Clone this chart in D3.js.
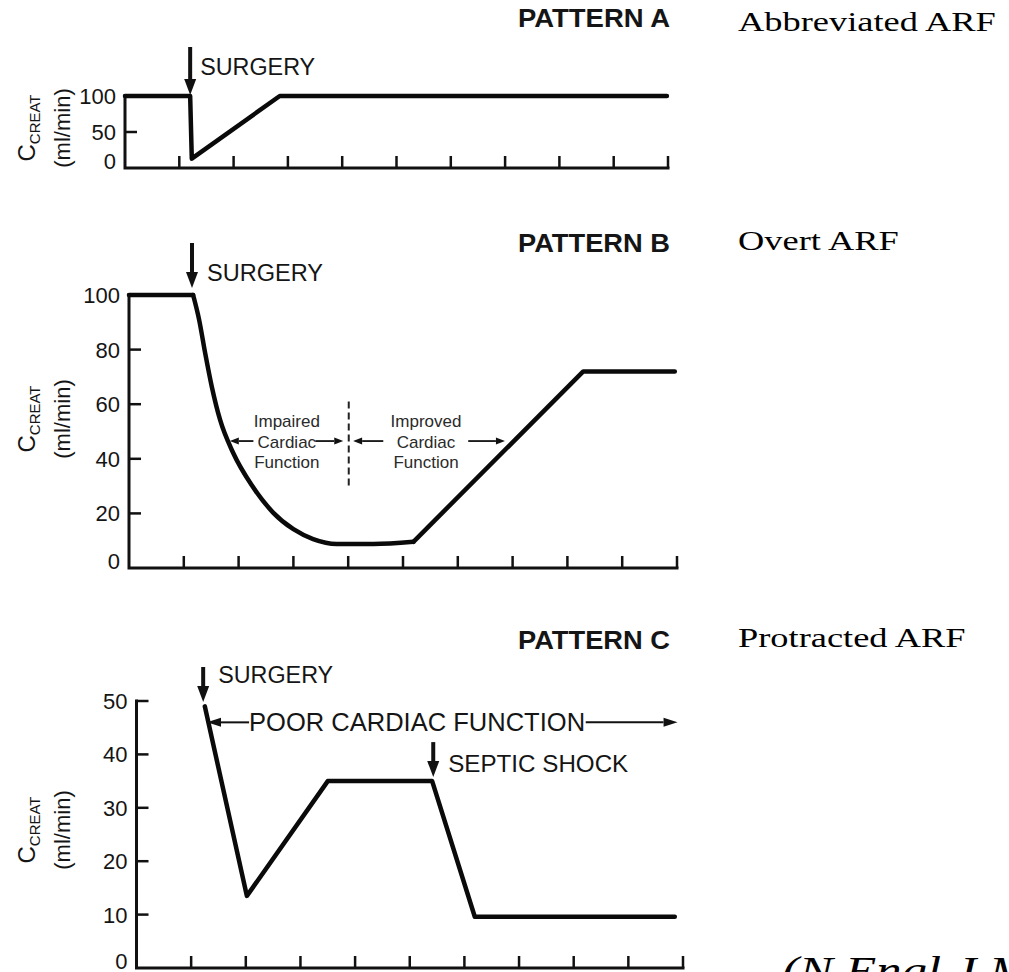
<!DOCTYPE html>
<html>
<head>
<meta charset="utf-8">
<script src="https://cdn.jsdelivr.net/npm/d3@7"></script>
<style>
    body { margin: 0; background: #fff; }
    svg { display: block; overflow: hidden; }
    .axis { stroke: #111; stroke-width: 3; fill: none; stroke-linecap: square; }
    .tick { stroke: #111; stroke-width: 2.5; }
    .curve { stroke: #0a0a0a; stroke-width: 4.5; fill: none; stroke-linejoin: round; stroke-linecap: round; }
    .sans { font-family: "Liberation Sans", Arial, sans-serif; fill: #151515; }
    .serif { font-family: "Liberation Serif", "Times New Roman", serif; fill: #000; }
</style>
</head>
<body>
<script>
(function(){

    //x axis tick positions (time units), shared by the three panels
    var timeTicks = [1, 2, 3, 4, 5, 6, 7, 8, 9, 10];

    //pattern A: abbreviated ARF
    var timeA = [0, 1.2, 1.23, 2.85, 9.98];
    var creatA = [100, 100, 13, 100, 100];
    var ticksA = [50, 100];

    //pattern B: overt ARF (smooth fall between 1.17 and 5.19, straight elsewhere)
    var timeB = [0, 1.17, 1.28, 1.39, 1.51, 1.66, 1.90, 2.25, 2.63, 3.00, 3.36, 3.79, 4.46, 5.19, 8.29, 9.96];
    var creatB = [100, 100, 90.9, 78.7, 66.5, 54.4, 42.2, 30.0, 20.3, 14.2, 10.6, 8.8, 8.8, 9.6, 72, 72];
    var smoothB = [1.17, 5.19];
    var ticksB = [20, 40, 60, 80, 100];

    //pattern C: protracted ARF
    var timeC = [1.25, 2.02, 3.50, 5.41, 6.19, 9.85];
    var creatC = [49, 13.5, 35, 35, 9.6, 9.6];
    var ticksC = [10, 20, 30, 40, 50];

    //annotation labels
    var patternNames = ["PATTERN A", "PATTERN B", "PATTERN C"];
    var arfNames = ["Abbreviated ARF", "Overt ARF", "Protracted ARF"];
    var impairedLines = ["Impaired", "Cardiac", "Function"];
    var improvedLines = ["Improved", "Cardiac", "Function"];

    window.onload = setFigure();

    function setFigure(){
        var width = 1009,
            height = 972;

        var svg = d3.select("body")
            .append("svg")
            .attr("width", width)
            .attr("height", height);

        svg.append("rect")
            .attr("width", width)
            .attr("height", height)
            .attr("fill", "#fff");

        //panel A
        var pA = drawPanel(svg, {
            xRange: [125, 668], yRange: [168, 96], yMax: 100,
            yTicks: ticksA, time: timeA, creat: creatA,
            smooth: null, labelY: 128
        });
        drawTitle(svg, patternNames[0], arfNames[0], 27, 31);
        drawBigArrow(svg, pA.x(1.2), pA.y(100) - 1, 48);
        drawSansText(svg, "SURGERY", pA.x(1.2) + 10, 75, 23, 115);

        //panel B
        var pB = drawPanel(svg, {
            xRange: [129, 677], yRange: [568, 295], yMax: 100,
            yTicks: ticksB, time: timeB, creat: creatB,
            smooth: smoothB, labelY: 419
        });
        drawTitle(svg, patternNames[1], arfNames[1], 252, 250);
        drawBigArrow(svg, pB.x(1.15), pB.y(100) - 7, 45);
        drawSansText(svg, "SURGERY", pB.x(1.15) + 15, 281, 23, 116);

        //dashed divider between cardiac phases
        svg.append("line")
            .attr("x1", pB.x(4.01)).attr("x2", pB.x(4.01))
            .attr("y1", pB.y(61)).attr("y2", pB.y(30))
            .attr("stroke", "#222")
            .attr("stroke-width", 2)
            .attr("stroke-dasharray", "7,4");

        drawSmallLines(svg, impairedLines, pB.x(2.88), pB.y(51.6));
        drawSmallLines(svg, improvedLines, pB.x(5.42), pB.y(51.6));
        var ay = pB.y(46.5);
        drawThinArrow(svg, pB.x(2.27), pB.x(1.84), ay, 9, 7, 1.8);
        drawThinArrow(svg, pB.x(3.40), pB.x(3.91), ay, 9, 7, 1.8);
        drawThinArrow(svg, pB.x(4.64), pB.x(4.09), ay, 9, 7, 1.8);
        drawThinArrow(svg, pB.x(6.19), pB.x(6.86), ay, 9, 7, 1.8);

        //panel C
        var pC = drawPanel(svg, {
            xRange: [136.5, 683], yRange: [968, 701], yMax: 50,
            yTicks: ticksC, time: timeC, creat: creatC,
            smooth: null, labelY: 830
        });
        drawTitle(svg, patternNames[2], arfNames[2], 649, 647);
        drawBigArrow(svg, pC.x(1.22), pC.y(50) + 1, 35);
        drawSansText(svg, "SURGERY", pC.x(1.22) + 15, 683, 23, 115);
        drawBigArrow(svg, pC.x(5.43), pC.y(35) - 4, 35);
        drawSansText(svg, "SEPTIC SHOCK", pC.x(5.43) + 15, 772, 24, 180);

        var py = pC.y(46);
        drawSansText(svg, "POOR CARDIAC FUNCTION", pC.x(2.06), 731, 25, 336);
        drawThinArrow(svg, pC.x(2.06), pC.x(1.29), py, 14, 9, 2);
        drawThinArrow(svg, pC.x(8.22), pC.x(9.90), py, 14, 9, 2);

        //citation, cut by the bottom edge as in the source
        svg.append("text")
            .attr("class", "serif")
            .attr("transform", "translate(782,984) scale(1.3,1)")
            .attr("font-size", 39)
            .attr("font-style", "italic")
            .text("(N Engl J Med");
    };

    //draw axes, ticks, labels and the clearance curve of one panel
    function drawPanel(svg, opts){
        var x = d3.scaleLinear()
            .domain([0, 10])
            .range(opts.xRange);
        var y = d3.scaleLinear()
            .domain([0, opts.yMax])
            .range(opts.yRange);

        var g = svg.append("g");

        //axis lines
        g.append("path")
            .attr("class", "axis")
            .attr("d", "M" + x(0) + "," + y(opts.yMax) +
                "V" + y(0) + "H" + x(10));

        //x ticks pointing up
        g.selectAll(".xtick")
            .data(timeTicks)
            .enter()
            .append("line")
            .attr("class", "tick")
            .attr("x1", function(d){ return x(d); })
            .attr("x2", function(d){ return x(d); })
            .attr("y1", y(0))
            .attr("y2", y(0) - 12);

        //y ticks pointing right
        g.selectAll(".ytick")
            .data(opts.yTicks)
            .enter()
            .append("line")
            .attr("class", "tick")
            .attr("x1", x(0))
            .attr("x2", x(0) + 12)
            .attr("y1", function(d){ return y(d); })
            .attr("y2", function(d){ return y(d); });

        //y tick labels (the zero sits a little above its tick)
        g.selectAll(".ylabel")
            .data([0].concat(opts.yTicks))
            .enter()
            .append("text")
            .attr("class", "sans")
            .attr("x", x(0) - 9)
            .attr("y", function(d){ return d === 0 ? y(d) - 7 : y(d); })
            .attr("dy", "0.36em")
            .attr("text-anchor", "end")
            .attr("font-size", 22)
            .text(function(d){ return d; });

        //rotated axis title
        var t1 = g.append("text")
            .attr("class", "sans")
            .attr("text-anchor", "middle")
            .attr("transform", "translate(35," + opts.labelY + ") rotate(-90)")
            .attr("font-size", 24);
        t1.append("tspan").text("C");
        t1.append("tspan")
            .attr("font-size", 15)
            .attr("dy", 5)
            .text("CREAT");

        g.append("text")
            .attr("class", "sans")
            .attr("text-anchor", "middle")
            .attr("transform", "translate(70," + opts.labelY + ") rotate(-90)")
            .attr("font-size", 22)
            .text("(ml/min)");

        //clearance curve, split into straight and smooth stretches
        var points = opts.time.map(function(t, i){ return [t, opts.creat[i]]; });
        var pieces;
        if (opts.smooth){
            var s0 = opts.smooth[0], s1 = opts.smooth[1];
            pieces = [
                {pts: points.filter(function(d){ return d[0] <= s0; }), curve: d3.curveLinear},
                {pts: points.filter(function(d){ return d[0] >= s0 && d[0] <= s1; }), curve: d3.curveMonotoneX},
                {pts: points.filter(function(d){ return d[0] >= s1; }), curve: d3.curveLinear}
            ];
        } else {
            pieces = [{pts: points, curve: d3.curveLinear}];
        }

        pieces.forEach(function(p){
            var line = d3.line()
                .x(function(d){ return x(d[0]); })
                .y(function(d){ return y(d[1]); })
                .curve(p.curve);
            g.append("path")
                .datum(p.pts)
                .attr("class", "curve")
                .attr("d", line);
        });

        return {x: x, y: y};
    };

    //bold pattern title and the serif ARF name to its right
    function drawTitle(svg, pattern, arf, yPattern, yArf){
        svg.append("text")
            .attr("class", "sans")
            .attr("x", 518)
            .attr("y", yPattern)
            .attr("font-size", 25)
            .attr("font-weight", "bold")
            .attr("textLength", 152)
            .attr("lengthAdjust", "spacingAndGlyphs")
            .text(pattern);

        svg.append("text")
            .attr("class", "serif")
            .attr("transform", "translate(738," + yArf + ") scale(1.3,1)")
            .attr("font-size", 28)
            .text(arf);
    };

    function drawSansText(svg, txt, x, y, size, len){
        svg.append("text")
            .attr("class", "sans")
            .attr("x", x)
            .attr("y", y)
            .attr("font-size", size)
            .attr("textLength", len)
            .attr("lengthAdjust", "spacingAndGlyphs")
            .text(txt);
    };

    //three centred lines of small annotation text
    function drawSmallLines(svg, lines, cx, y0){
        svg.selectAll(null)
            .data(lines)
            .enter()
            .append("text")
            .attr("class", "sans")
            .attr("x", cx)
            .attr("y", function(d, i){ return y0 + i * 20.5; })
            .attr("text-anchor", "middle")
            .attr("font-size", 17)
            .style("fill", "#2a2a2a")
            .text(function(d){ return d; });
    };

    //heavy downward event arrow ending at (x, tipY)
    function drawBigArrow(svg, x, tipY, len){
        var headLen = 16, headW = 12;
        svg.append("line")
            .attr("x1", x).attr("x2", x)
            .attr("y1", tipY - len)
            .attr("y2", tipY - headLen + 2)
            .attr("stroke", "#111")
            .attr("stroke-width", 4);
        svg.append("path")
            .attr("d", "M" + x + "," + tipY +
                "L" + (x - headW / 2) + "," + (tipY - headLen) +
                "L" + (x + headW / 2) + "," + (tipY - headLen) + "Z")
            .attr("fill", "#111");
    };

    //thin horizontal arrow from tail x to head x
    function drawThinArrow(svg, xTail, xHead, y, headLen, headW, sw){
        var dir = xHead > xTail ? 1 : -1;
        svg.append("line")
            .attr("x1", xTail).attr("x2", xHead - dir * headLen)
            .attr("y1", y).attr("y2", y)
            .attr("stroke", "#111")
            .attr("stroke-width", sw);
        svg.append("path")
            .attr("d", "M" + xHead + "," + y +
                "L" + (xHead - dir * headLen) + "," + (y - headW / 2) +
                "L" + (xHead - dir * headLen) + "," + (y + headW / 2) + "Z")
            .attr("fill", "#111");
    };

})();
</script>
</body>
</html>
